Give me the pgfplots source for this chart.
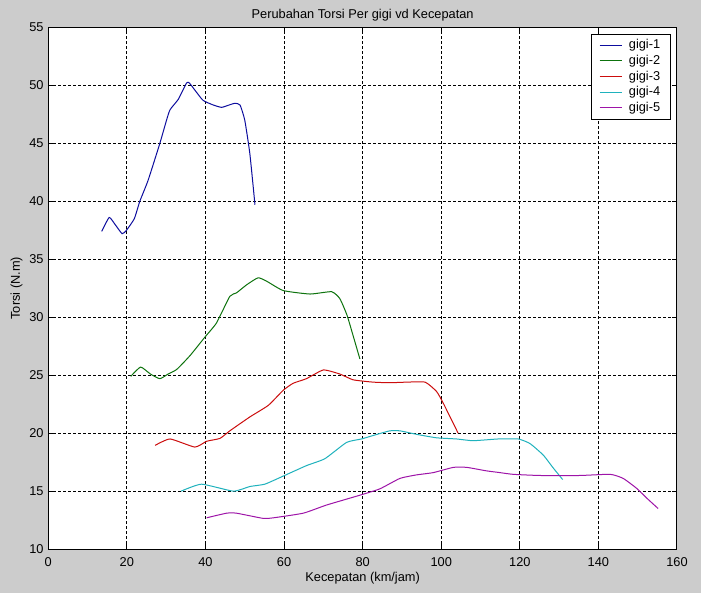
\documentclass[border=0pt]{standalone}
\usepackage{fontspec}
\setmainfont{Liberation Sans}
\usepackage{pgfplots}
\pgfplotsset{compat=1.18}
\definecolor{bgc}{rgb}{0.8,0.8,0.8}
\definecolor{mb}{rgb}{0.05,0.05,0.62}
\definecolor{mg}{rgb}{0.05,0.45,0.05}
\definecolor{mr}{rgb}{0.8,0.05,0.05}
\definecolor{mc}{rgb}{0.12,0.7,0.74}
\definecolor{mm}{rgb}{0.62,0.08,0.66}
\begin{document}
\begin{tikzpicture}
\useasboundingbox (-36.2pt,-33pt) rectangle (489.5pt,411.8pt);
\fill[bgc] (-36.2pt,-33pt) rectangle (489.5pt,411.8pt);
\begin{axis}[
  at={(0,0)}, anchor=south west,
  scale only axis,
  width=471.5pt, height=391.3pt,
  xmin=0, xmax=160, ymin=10, ymax=55,
  xtick={0,20,...,160}, ytick={10,15,...,55},
  axis background/.style={fill=white},
  axis line style={black, line width=0.75pt},
  tick align=inside, major tick length=4pt,
  tick style={black, line width=0.75pt},
  grid=major,
  major grid style={black, line width=0.75pt, dash pattern=on 2.25pt off 1.5pt},
  /pgf/number format/assume math mode=true,
  ticklabel style={font=\fontsize{9.6}{11}\selectfont},
  xticklabel style={yshift=-2.5pt},
  title={Perubahan Torsi Per gigi vd Kecepatan},
  title style={at={(axis description cs:0.5,1)}, anchor=base, yshift=0.8pt, font=\fontsize{9.6}{11}\selectfont},
  xlabel={Kecepatan (km/jam)},
  xlabel style={at={(axis description cs:0.5,0)}, anchor=base, yshift=-24.5pt, font=\fontsize{9.6}{11}\selectfont},
  ylabel={Torsi (N.m)},
  ylabel style={at={(axis description cs:-0.0503,0.5)}, anchor=center, font=\fontsize{9.6}{11}\selectfont},
  legend style={at={(1,1)}, anchor=north east, xshift=-4.7pt, yshift=-5pt,
    draw=black, fill=white, font=\fontsize{9.6}{11}\selectfont,
    inner xsep=5.7pt, inner ysep=2pt, row sep=-0.7pt, column sep=2.5pt},
  legend cell align=left,
  legend image code/.code={\draw[#1] (0pt,0pt) -- (17pt,0pt);},
  every axis plot/.append style={line width=0.75pt},
]
\addplot[draw=mb, smooth, tension=0.3] coordinates {
(13.6,37.4) (15.5,38.6) (17.0,38.0) (18.8,37.2) (19.9,37.5) (21.9,38.5)
(23.3,40.0) (25.4,41.8) (28.4,45.0) (30.1,47.0) (31.0,47.9) (33.1,48.8)
(35.2,50.2) (35.9,50.2) (37.5,49.5) (39.4,48.7) (42.0,48.3) (44.1,48.1)
(46.0,48.3) (47.5,48.45) (48.8,48.3) (50.0,47.0) (51.3,44.1) (52.6,39.7)
};
\addlegendentry{gigi-1}
\addplot[draw=mg, smooth, tension=0.3] coordinates {
(21.0,24.9) (23.5,25.7) (26.0,25.1) (28.4,24.7) (30.5,25.1) (32.7,25.5)
(36.1,26.7) (39.9,28.3) (42.8,29.5) (46.2,31.8) (47.9,32.1) (50.5,32.8)
(53.4,33.4) (55.6,33.1) (59.8,32.3) (66.6,32.0) (72.1,32.2) (74.2,31.6)
(76.0,30.2) (77.5,28.5) (79.3,26.4)
};
\addlegendentry{gigi-2}
\addplot[draw=mr, smooth, tension=0.3] coordinates {
(27.2,18.95) (31.0,19.5) (37.3,18.8) (40.3,19.3) (43.7,19.55) (46.2,20.2)
(51.3,21.4) (56.0,22.4) (59.8,23.7) (62.3,24.3) (65.7,24.7) (70.0,25.45)
(74.2,25.1) (77.6,24.6) (82.7,24.4) (86.9,24.35) (91.2,24.4) (95.9,24.4)
(98.8,23.6) (100.5,22.6) (104.3,20.0)
};
\addlegendentry{gigi-3}
\addplot[draw=mc, smooth, tension=0.3] coordinates {
(33.8,15.0) (39.0,15.6) (47.1,15.0) (51.3,15.4) (55.1,15.6) (59.8,16.3)
(65.7,17.2) (70.4,17.8) (75.9,19.2) (79.7,19.5) (82.7,19.8) (86.9,20.2)
(89.5,20.2) (93.7,19.9) (98.8,19.6) (103.9,19.5) (108.1,19.35) (114.5,19.5)
(119.6,19.5) (122.6,19.1) (126.0,18.1) (128.5,17.0) (130.9,16.0)
};
\addlegendentry{gigi-4}
\addplot[draw=mm, smooth, tension=0.3] coordinates {
(40.3,12.7) (45.4,13.1) (47.9,13.1) (54.7,12.65) (57.3,12.7) (64.9,13.1)
(70.8,13.8) (79.3,14.65) (84.4,15.2) (89.5,16.1) (93.7,16.4) (98.0,16.6)
(103.1,17.05) (106.5,17.05) (111.5,16.75) (114.9,16.6) (118.3,16.45)
(125.1,16.35) (135.3,16.35) (143.0,16.45) (146.3,16.1) (149.7,15.25)
(152.3,14.4) (155.2,13.5)
};
\addlegendentry{gigi-5}
\end{axis}
\end{tikzpicture}
\end{document}
